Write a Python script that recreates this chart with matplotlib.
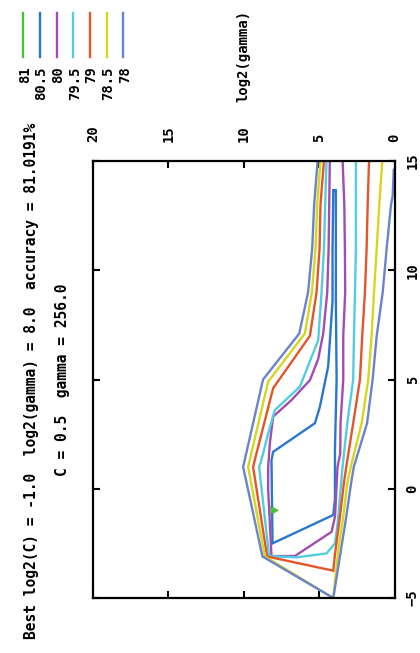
import matplotlib
matplotlib.use('Agg')
import matplotlib.pyplot as plt
from matplotlib.lines import Line2D

# ---------------- data ----------------
levels = ['81', '80.5', '80', '79.5', '79', '78.5', '78']
colors = ['#4cbf3c', '#2a78cc', '#a24cb4', '#52cde0', '#e4552a', '#d6d61c', '#6a84cc']

# contour paths (log2(gamma), log2(C))
g_81 = [8.15, 8.15, 7.82, 8.15]
c_81 = [-0.86, -1.12, -0.99, -0.86]

g_805 = [4.06, 4.11, 4.11, 4.11, 4.40, 4.95, 5.28, 8.05, 8.16, 8.09, 4.06, 3.95, 3.95, 3.84, 3.89, 3.89, 4.06]
c_805 = [13.66, 11.0, 9.0, 8.6, 5.6, 3.75, 3.0, 1.69, 1.3, -2.5, -1.2, -0.5, 1.8, 5.0, 8.6, 13.66, 13.66]

g_80 = [4.29, 4.33, 4.37, 4.46, 4.73, 5.06, 5.61, 6.83, 8.05, 8.27, 8.38, 8.38, 8.16, 6.61, 4.17, 3.95, 3.89,
        3.78, 3.60, 3.58, 3.40, 3.40, 3.27, 3.29, 3.33, 3.44]
c_80 = [15.0, 13.0, 11.0, 9.0, 7.1, 5.94, 4.97, 4.06, 3.3, 2.08, 1.0, -0.06, -3.08, -3.08, -1.97, -1.28, -0.52,
        1.0, 1.6, 3.0, 5.0, 7.0, 9.0, 11.0, 13.0, 15.0]

g_795 = [4.51, 4.60, 4.68, 4.84, 5.06, 6.28, 7.94, 8.38, 8.83, 8.98, 8.32, 6.50, 4.51, 3.95, 3.80, 3.73,
         3.45, 3.13, 2.74, 2.69, 2.62, 2.56, 2.56, 2.56]
c_795 = [15.0, 13.0, 11.0, 9.0, 6.8, 4.67, 3.6, 2.53, 1.31, 1.0, -3.08, -3.14, -2.96, -2.5, -1.74, -1.28,
         1.0, 3.0, 5.0, 7.0, 9.0, 11.0, 13.0, 15.0]

g_79 = [4.68, 4.91, 4.97, 5.17, 5.61, 8.05, 9.27, 9.38, 8.45, 4.06, 3.95, 3.62, 3.36, 3.20,
        2.74, 2.29, 2.14, 1.96, 1.85, 1.78, 1.69]
c_79 = [15.0, 13.0, 11.0, 9.0, 7.0, 4.6, 1.31, 1.0, -3.1, -3.75, -3.0, -1.28, 0.25, 1.0,
        3.0, 5.0, 7.0, 9.0, 11.0, 13.0, 15.0]

g_785 = [4.91, 5.13, 5.24, 5.48, 5.95, 8.38, 9.71, 8.60, 4.06, 3.73, 3.40, 3.13, 2.90,
         2.18, 1.74, 1.52, 1.36, 1.18, 1.01, 0.81]
c_785 = [15.0, 13.0, 11.0, 9.0, 7.1, 4.9, 1.0, -3.1, -5.0, -2.8, -1.28, 0.25, 1.0,
         3.0, 5.0, 7.0, 9.0, 11.0, 13.0, 15.0]

g_78 = [5.10, 5.33, 5.46, 5.73, 6.32, 8.72, 10.04, 8.76, 4.06, 3.55, 3.20, 2.88, 2.70,
        1.82, 1.45, 1.18, 0.78, 0.52, 0.23, 0.12, 0.05]
c_78 = [15.0, 13.0, 11.0, 9.0, 7.1, 5.0, 1.0, -3.1, -5.0, -2.8, -1.28, 0.25, 1.0,
        3.0, 5.0, 7.0, 9.0, 11.0, 13.0, 13.4, 14.6]

paths_g = [g_81, g_805, g_80, g_795, g_79, g_785, g_78]
paths_c = [c_81, c_805, c_80, c_795, c_79, c_785, c_78]

gamma_ticks = [0, 5, 10, 15, 20]
c_ticks = [-5, 0, 5, 10, 15]

title_1 = 'Best log2(C) = -1.0  log2(gamma) = 8.0  accuracy = 81.0191%'
title_2 = 'C = 0.5  gamma = 256.0'
gamma_label = 'log2(gamma)'

# ---------------- drawing ----------------
W, H = 420, 653
fig = plt.figure(figsize=(W / 100, H / 100), dpi=100)
font = dict(family='DejaVu Sans Mono', weight='bold', size=10)
tfont = dict(family='DejaVu Sans Mono', weight='bold', size=10.5)

ax = fig.add_axes([93 / W, (H - 598) / H, 301.5 / W, 437 / H])
ax.set_xlim(20, 0)
ax.set_ylim(-5, 15)

for i in range(len(levels) - 1, -1, -1):
    ax.plot(paths_g[i], paths_c[i], color=colors[i], lw=1.7, solid_joinstyle='miter', zorder=2 + i * 0.01)
# tiny best-point contour filled
ax.fill(g_81, c_81, color=colors[0], zorder=3)

ax.set_xticks(gamma_ticks)
ax.set_yticks(c_ticks)
ax.xaxis.set_label_position('top')
ax.tick_params(axis='x', which='both', direction='in', top=True, bottom=True,
               labeltop=True, labelbottom=False, labelrotation=90, length=5, width=1.5, pad=13.5)
ax.tick_params(axis='y', which='both', direction='in', left=True, right=True,
               labelleft=False, labelright=True, labelrotation=90, length=5, width=1.5, pad=8)
for lbl in ax.get_xticklabels() + ax.get_yticklabels():
    lbl.set_fontfamily('DejaVu Sans Mono')
    lbl.set_fontweight('bold')
    lbl.set_fontsize(10)
for lbl in ax.get_yticklabels():
    lbl.set_va('center')
for s in ax.spines.values():
    s.set_linewidth(1.6)

ax.set_xlabel(gamma_label, rotation=90, labelpad=19, **font)

# titles (rotated)
fig.text(32 / W, 1 - 381 / H, title_1, rotation=90, ha='center', va='center', **tfont)
fig.text(63 / W, 1 - 380 / H, title_2, rotation=90, ha='center', va='center', **tfont)

# legend (rotated key)
for i, (lev, col) in enumerate(zip(levels, colors)):
    x = (23.3 + 16.67 * i) / W
    fig.add_artist(Line2D([x, x], [1 - 12.7 / H, 1 - 56.7 / H], color=col, lw=1.7,
                          transform=fig.transFigure))
    fig.text(x + 1.5 / W, 1 - 66 / H, lev, rotation=90, ha='center', va='top', **font)

fig.savefig('out.png', dpi=100)
